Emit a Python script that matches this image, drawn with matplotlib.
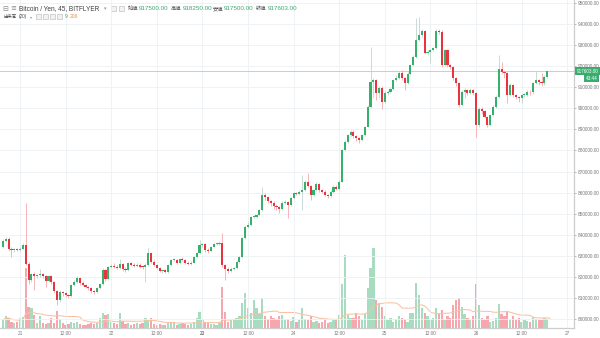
import numpy as np
import pandas as pd
import matplotlib
matplotlib.use("Agg")
import matplotlib.pyplot as plt
from matplotlib.patches import Rectangle
from matplotlib.ticker import FixedLocator, FuncFormatter
from matplotlib.transforms import blended_transform_factory

# ---- BTC/JPY 45-minute candles (BITFLYER) ----
opens = [
    834200, 837000, 837800, 833200, 832900, 833100, 832900, 833300, 835000, 826100,
    818500, 821300, 820500, 820800, 821300, 820400, 818000, 820200, 817600, 813400,
    809000, 813000, 812200, 811400, 810800, 816100, 817700, 819300, 817200, 816300,
    815300, 814600, 813400, 812700, 814600, 816800, 823300, 818800, 824800, 825200,
    824600, 824200, 825900, 823600, 823400, 826400, 825600, 825000, 825800, 824800,
    824600, 825600, 831100, 827200, 825600, 824000, 822900, 823300, 822400, 825600,
    828000, 828100, 826700, 828300, 828200, 826700, 826200, 826800, 829600, 831500,
    835100, 835500, 832700, 832200, 834300, 835600, 835700, 836200, 825600, 823600,
    823000, 823800, 824000, 827200, 829300, 838300, 843800, 844600, 848300, 848500,
    849400, 851700, 858900, 858000, 855800, 855200, 853700, 853200, 852100, 855200,
    855700, 854300, 857300, 859900, 859300, 860400, 861200, 865200, 863100, 858900,
    861200, 864100, 861200, 860400, 858900, 858400, 860400, 862800, 861600, 865200,
    880200, 884100, 887300, 888900, 886800, 885700, 884900, 887300, 891300, 900800,
    912600, 913400, 907100, 909800, 903100, 907400, 907900, 909200, 913400, 914200,
    916600, 914200, 911900, 916300, 920500, 924500, 932400, 934800, 936800, 926400,
    926900, 927700, 928500, 936800, 936400, 920500, 927700, 920500, 919700, 914200,
    911900, 901600, 907800, 908700, 907400, 908700, 907100, 891900, 899900, 898500,
    896000, 891900, 896800, 900800, 905500, 918500, 917300, 916600, 906300, 911100,
    906300, 905500, 904700, 906300, 906500, 907900, 907500, 911900, 913400, 912600,
    912000, 915000, 917500,
]
highs = [
    838000, 839000, 839000, 834000, 833800, 833600, 834000, 836000, 855200, 827000,
    822000, 822500, 821500, 823600, 822000, 821000, 821000, 820800, 818000, 813800,
    814000, 813500, 812800, 812000, 816800, 818500, 820200, 819800, 817800, 816800,
    815800, 815000, 813800, 815000, 817300, 824000, 823800, 825300, 826000, 826500,
    825500, 828500, 826500, 824500, 827000, 827200, 826500, 826800, 826500, 825500,
    826500, 833500, 831500, 827800, 826000, 824500, 823800, 823800, 826000, 828500,
    828800, 828600, 829000, 829500, 828600, 827300, 827500, 830000, 832000, 837500,
    836300, 836000, 833500, 834800, 836000, 836400, 836800, 840800, 826200, 824500,
    824500, 824800, 827800, 829800, 839000, 844500, 846000, 849000, 849300, 850000,
    852300, 862800, 859800, 858500, 856500, 855800, 854500, 853800, 855800, 856500,
    856200, 858000, 860500, 860300, 861000, 868300, 866000, 869200, 863800, 861800,
    864800, 864600, 861800, 861000, 859500, 861000, 863400, 863500, 865800, 880800,
    884800, 888000, 889500, 889500, 887300, 886300, 888000, 891800, 901500, 929200,
    914500, 914000, 910500, 910500, 908000, 908500, 910000, 914000, 916000, 917500,
    918000, 914800, 917000, 921200, 925200, 942700, 943500, 937500, 937300, 927800,
    928300, 929000, 937800, 937500, 937000, 928300, 928200, 921000, 920200, 914800,
    912500, 908500, 909500, 909200, 909500, 909300, 907800, 900500, 900500, 899000,
    896500, 897500, 901500, 906200, 925300, 922100, 918000, 917000, 911800, 911600,
    907000, 906000, 906800, 907200, 908500, 908600, 912500, 917500, 914000, 916600,
    916000, 918200, 918250,
]
lows = [
    833500, 836500, 832500, 829300, 832000, 832200, 832500, 833000, 825500, 816500,
    817500, 814000, 819500, 820000, 819500, 815000, 817500, 816500, 812500, 806500,
    808000, 811000, 810500, 810000, 810300, 815500, 817000, 816000, 815500, 814500,
    813800, 812500, 812000, 812200, 814200, 816300, 818000, 818500, 824000, 824000,
    823500, 823800, 822800, 822500, 823000, 825000, 824500, 824600, 824200, 823800,
    817700, 825200, 826500, 825000, 823500, 822300, 822000, 821800, 822000, 825200,
    827300, 826200, 826300, 827600, 826200, 825600, 825800, 826500, 829000, 831000,
    834300, 832000, 831500, 831800, 834000, 835000, 835300, 824500, 818500, 822000,
    822500, 823200, 823600, 826800, 829000, 838000, 843200, 844200, 847800, 848000,
    849000, 851300, 856500, 855000, 853500, 852000, 851500, 850500, 851600, 854500,
    848000, 853800, 856800, 858700, 858800, 851700, 860800, 862500, 856500, 858300,
    860800, 860500, 859800, 858200, 857500, 858000, 860000, 861000, 861200, 864800,
    879800, 883500, 886800, 886000, 884300, 883400, 884500, 886800, 891000, 900300,
    905500, 904000, 905000, 899500, 902500, 906500, 907200, 908800, 912800, 913800,
    913500, 908700, 911400, 915800, 920000, 924000, 931800, 934000, 925800, 925500,
    921300, 927000, 928000, 935500, 919800, 920000, 919800, 918500, 913500, 910500,
    900500, 901000, 905000, 906500, 906800, 906500, 886500, 891300, 897500, 895200,
    891000, 891500, 896300, 900300, 905000, 916500, 914500, 902400, 905800, 905500,
    904500, 903000, 902500, 905500, 906000, 906500, 907000, 911500, 911000, 910500,
    911200, 914500, 917500,
]
closes = [
    837000, 837800, 833200, 832900, 833100, 832900, 833300, 835000, 826100, 818500,
    821300, 820500, 820800, 821300, 820400, 818000, 820200, 817600, 813400, 809000,
    813000, 812200, 811400, 810800, 816100, 817700, 819300, 817200, 816300, 815300,
    814600, 813400, 812700, 814600, 816800, 823300, 818800, 824800, 825200, 824600,
    824200, 825900, 823600, 823400, 826400, 825600, 825000, 825800, 824800, 824600,
    825600, 831100, 827200, 825600, 824000, 822900, 823300, 822400, 825600, 828000,
    828100, 826700, 828300, 828200, 826700, 826200, 826800, 829600, 831500, 835100,
    835500, 832700, 832200, 834300, 835600, 835700, 836200, 825600, 823600, 823000,
    823800, 824000, 827200, 829300, 838300, 843800, 844600, 848300, 848500, 849400,
    851700, 858900, 858000, 855800, 855200, 853700, 853200, 852100, 855200, 855700,
    854300, 857300, 859900, 859300, 860400, 861200, 865200, 863100, 858900, 861200,
    864100, 861200, 860400, 858900, 858400, 860400, 862800, 861600, 865200, 880200,
    884100, 887300, 888900, 886800, 885700, 884900, 887300, 891300, 900800, 912600,
    913400, 907100, 909800, 903100, 907400, 907900, 909200, 913400, 914200, 916600,
    914200, 911900, 916300, 920500, 924500, 932400, 934800, 936800, 926400, 926900,
    927700, 928500, 936800, 936400, 920500, 927700, 920500, 919700, 914200, 911900,
    901600, 907800, 908700, 907400, 908700, 907100, 891900, 899900, 898500, 896000,
    891900, 896800, 900800, 905500, 918500, 917300, 916600, 906300, 911100, 906300,
    905500, 904700, 906300, 906500, 907900, 907500, 911900, 913400, 912600, 912000,
    915000, 917500, 917603,
]
volumes = [
    168, 252, 210, 126, 105, 126, 210, 231, 1260, 441,
    420, 273, 105, 252, 105, 84, 105, 210, 105, 357,
    189, 105, 63, 84, 126, 105, 126, 84, 63, 63,
    84, 105, 84, 105, 210, 315, 273, 294, 126, 105,
    84, 315, 147, 84, 105, 63, 84, 105, 84, 105,
    210, 168, 210, 84, 63, 84, 63, 63, 105, 126,
    105, 63, 84, 105, 84, 63, 84, 126, 210, 336,
    168, 126, 105, 84, 84, 63, 105, 861, 336, 126,
    168, 189, 210, 252, 525, 735, 420, 315, 588, 420,
    294, 630, 252, 189, 252, 210, 189, 252, 273, 168,
    189, 147, 231, 126, 168, 420, 189, 168, 252, 126,
    147, 105, 126, 168, 105, 126, 168, 189, 273, 924,
    1533, 273, 210, 210, 315, 252, 168, 294, 840, 1260,
    1680, 588, 525, 441, 252, 168, 210, 126, 189, 252,
    210, 168, 126, 315, 315, 945, 693, 420, 315, 252,
    168, 210, 420, 294, 378, 168, 252, 210, 483, 588,
    630, 441, 294, 210, 168, 252, 924, 483, 210, 168,
    252, 126, 147, 210, 504, 294, 252, 336, 168, 252,
    168, 210, 126, 168, 147, 126, 231, 189, 168, 168,
    210, 189, 9,
]
first_bar = "2019-05-20 19:30"
bar_minutes = 45
ma_length = 20
price_ticks = list(range(800000, 960000, 10000))
time_ticks = ["21 00:00", "21 12:00", "22 00:00", "22 12:00", "23 00:00", "23 12:00",
              "24 00:00", "24 12:00", "25 00:00", "25 12:00", "26 00:00", "26 12:00",
              "27 00:00"]

# ---- colours ----
UP, DOWN = "#37b06c", "#e8343f"
UP_WICK, DOWN_WICK = "#bfd6cf", "#f4aab0"
VOL_UP, VOL_DOWN = "#a8dcc0", "#f5a7ad"
MA_COLOR = "#f8c2a2"
GRID = "#edf1f5"
AXIS = "#cdcdcd"
TXT = "#787878"
LABEL_FONT = ["Liberation Sans", "DejaVu Sans"]
HEAD_FONT = ["Liberation Sans", "Noto Sans CJK JP", "DejaVu Sans"]
CJK_FONT = ["Noto Sans CJK JP", "DejaVu Sans"]

o = np.array(opens, float)
h = np.array(highs, float)
l = np.array(lows, float)
c = np.array(closes, float)
v = np.array(volumes, float)
x = np.arange(len(c))
up = c >= o

t0 = pd.Timestamp(first_bar)
step = pd.Timedelta(minutes=bar_minutes)
tick_times = [pd.Timestamp(f"2019-05-{s}") for s in time_ticks]
tick_pos = [(t - t0) / step for t in tick_times]
tick_lab = [str(t.day) if (t.hour == 0) else t.strftime("%H:%M") for t in tick_times]

W, H = 600, 338
fig = plt.figure(figsize=(W / 100, H / 100), dpi=100)
fig.patch.set_facecolor("white")
rect = [0, 10 / H, 574 / W, 328 / H]

# volume pane underneath the price pane
vax = fig.add_axes(rect, zorder=0)
vax.bar(x, v, width=0.8, color=np.where(up, VOL_UP, VOL_DOWN), linewidth=0)
vol_ma = pd.Series(v).rolling(ma_length, min_periods=1).mean()
vax.plot(x, vol_ma, color=MA_COLOR, lw=0.75)
vax.set_ylim(0, 6900)
vax.set_xlim(-1.02, 200.4)
vax.axis("off")

ax = fig.add_axes(rect, zorder=1)
ax.patch.set_visible(False)
ax.set_xlim(-1.02, 200.4)
ax.set_ylim(795730, 951400)

# candles
ax.vlines(x[up], l[up], h[up], color=UP_WICK, lw=0.6, zorder=3)
ax.vlines(x[~up], l[~up], h[~up], color=DOWN_WICK, lw=0.6, zorder=3)
body_lo = np.minimum(o, c)
body_h = np.maximum(np.abs(c - o), 350)
ax.bar(x[up], body_h[up], bottom=body_lo[up], width=0.74, color=UP, lw=0, zorder=4)
ax.bar(x[~up], body_h[~up], bottom=body_lo[~up], width=0.74, color=DOWN, lw=0, zorder=4)

# last price line
last = c[-1]
ax.axhline(last, color="#a3d6bd", lw=0.6, zorder=2)

# grid and axes
ax.yaxis.set_major_locator(FixedLocator(price_ticks))
ax.yaxis.set_major_formatter(FuncFormatter(lambda val, _: f"{val:.2f}"))
ax.xaxis.set_major_locator(FixedLocator(tick_pos))
ax.set_xticklabels(tick_lab)
ax.grid(True, color=GRID, lw=0.6, zorder=0)
ax.set_axisbelow(True)
ax.yaxis.tick_right()
for s in ("left", "top"):
    ax.spines[s].set_visible(False)
for s in ("right", "bottom"):
    ax.spines[s].set_color(AXIS)
    ax.spines[s].set_linewidth(0.9)
ax.tick_params(axis="y", length=1.6, width=0.5, color="#9a9a9a", pad=1.2,
               labelsize=3.4, labelcolor=TXT)
ax.tick_params(axis="x", length=0, pad=2.2, labelsize=3.4, labelcolor=TXT)
for lab in ax.get_yticklabels() + ax.get_xticklabels():
    lab.set_fontfamily(LABEL_FONT)
for lab, t in zip(ax.get_xticklabels(), tick_times):
    if t.day == 23 and t.hour == 0:
        lab.set_fontweight("bold")

# price / countdown badges on the scale
tr = blended_transform_factory(ax.transAxes, ax.transData)
ax.text(1.004, last, f"{last:.2f}", transform=tr, ha="left", va="center",
        fontsize=3.3, color="white", family=LABEL_FONT, zorder=6, clip_on=False,
        bbox=dict(boxstyle="square,pad=0.35", fc="#3aad6e", ec="none"))
ax.text(1.021, last - 3300, "43:44", transform=tr, ha="left", va="center",
        fontsize=3.3, color="white", family=LABEL_FONT, zorder=6, clip_on=False,
        bbox=dict(boxstyle="square,pad=0.35", fc="#3aad6e", ec="none"))


# ---- legend header ----
def fx(px):
    return px / W


def fy(py):
    return 1 - py / H


def icon(px, py, size=5.0):
    fig.add_artist(Rectangle((fx(px), fy(py + size / 2)), size / W, size / H,
                             transform=fig.transFigure, fc="#f2f2f2",
                             ec="#bdbdbd", lw=0.45))


row1 = 8.6
fig.text(fx(2.5), fy(row1), "⊟", fontsize=5.0, color="#8a8a8a", va="center", family=["DejaVu Sans"])
fig.text(fx(10.5), fy(row1), "≡", fontsize=5.0, color="#8a8a8a", va="center", family=["DejaVu Sans"])
fig.text(fx(19), fy(row1), "Bitcoin / Yen, 45, BITFLYER", fontsize=4.7,
         color="#3e3e3e", va="center", family=HEAD_FONT)
fig.text(fx(104), fy(row1), "▾", fontsize=3.6, color="#9a9a9a", va="center", family=["DejaVu Sans"])
icon(111, row1)
icon(118.5, row1)
head = [("始値", o[-1], 127.5), ("高値", h[-1], 171), ("安値", l[-1], 212.5), ("終値", c[-1], 256)]
for name, val, px in head:
    fig.text(fx(px), fy(row1), name, fontsize=3.8, color="#4a4a4a", va="center", family=CJK_FONT)
    fig.text(fx(px + 11.5), fy(row1), f"{val:.2f}", fontsize=4.5, color="#3aa86c",
             va="center", family=HEAD_FONT)

row2 = 16.6
fig.text(fx(4), fy(row2), "出来高", fontsize=3.2, color="#4a4a4a", va="center", family=CJK_FONT)
fig.text(fx(18.5), fy(row2), "(20)", fontsize=3.4, color="#4a4a4a", va="center", family=HEAD_FONT)
fig.text(fx(29.5), fy(row2), "▾", fontsize=3.0, color="#9a9a9a", va="center", family=["DejaVu Sans"])
for px in (36, 43, 50, 57):
    icon(px, row2, 4.6)
fig.text(fx(64.5), fy(row2), f"{v[-1]:.0f}", fontsize=3.6, color="#3aa86c", va="center", family=HEAD_FONT)
fig.text(fx(70), fy(row2), f"{vol_ma.iloc[-1]:.0f}", fontsize=3.6, color="#f08a45",
         va="center", family=HEAD_FONT)

fig.savefig("out.png", dpi=100, facecolor="white")
